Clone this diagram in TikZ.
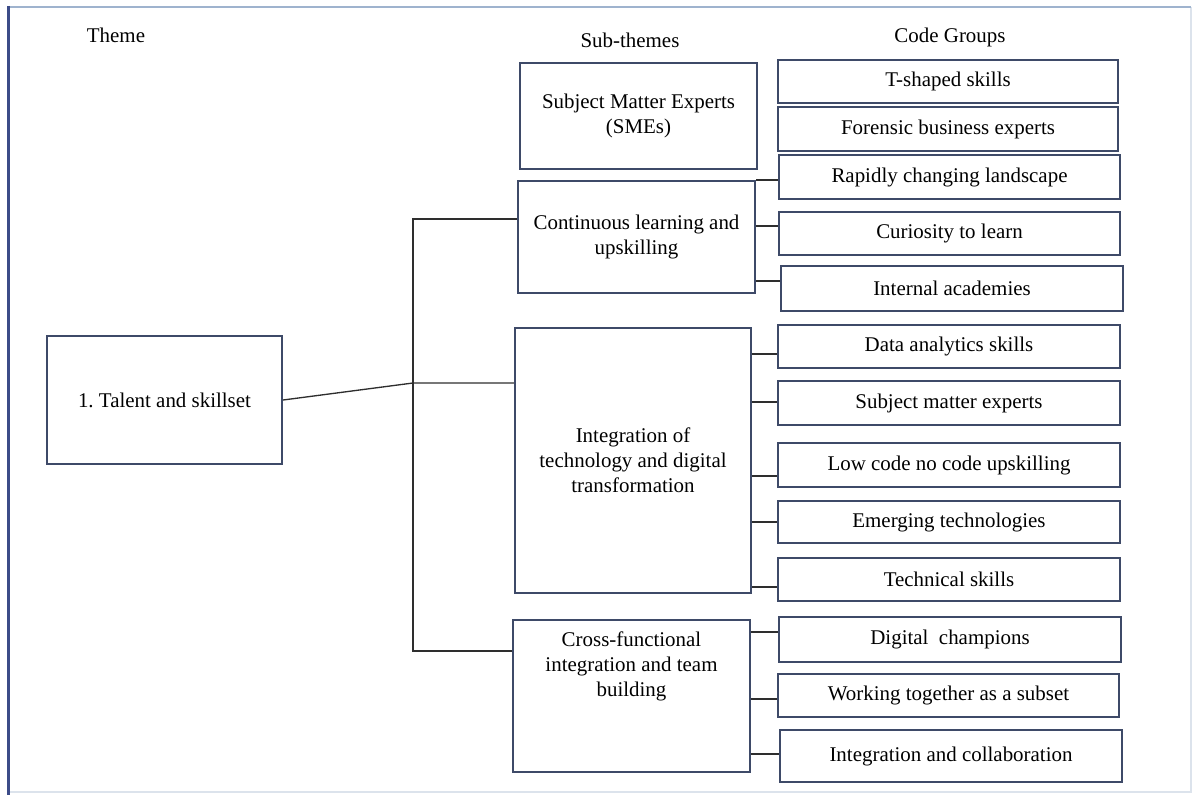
\documentclass[tikz,border=0pt]{standalone}
\usepackage{fontspec}
\setmainfont{Liberation Serif}
\definecolor{boxblue}{HTML}{3E4A68}
\definecolor{linkgray}{HTML}{2E2E2E}
\definecolor{frameblue}{HTML}{3C4C88}
\definecolor{framelight}{HTML}{9FB3CE}
\definecolor{framefaint}{HTML}{DCE3EC}
\newcommand\diagfont{\fontsize{15.7}{18.75}\selectfont}
% box given by its pixel corners: name, x1, y1, x2, y2, text
\newcommand\pxbox[7][]{%
  \node[box, #1, minimum width={(#4-#2)*0.75pt}, minimum height={(#5-#3)*0.75pt}]
    (#6) at ({(#2+#4)/2},{(#3+#5)/2}) {#7};}
\begin{document}
\begin{tikzpicture}[x=0.75pt,y=-0.75pt,
  box/.style={draw=boxblue, line width=1.7pt, inner sep=0pt, align=center, font=\diagfont},
  link/.style={draw=linkgray, line width=1pt},
  head/.style={font=\diagfont, inner sep=0pt}]
\useasboundingbox (0,0) rectangle (1196,795);

% frame
\draw[framefaint, line width=0.8pt] (1191,7) -- (1191,792) -- (8,792);
\draw[framelight, line width=0.9pt] (8,7) -- (1191,7);
\draw[frameblue, line width=2.6pt] (8.5,6) -- (8.5,795);

% column headers
\node[head] (hTheme) at (116,35) {Theme};
\node[head] (hSub) at (630,40) {Sub-themes};
\node[head] (hCode) at (950,37) {Code Groups};

% theme
\pxbox{47}{336}{282}{464}{T}{1.\ Talent and skillset}

% sub-themes
\pxbox{520}{63}{757}{169}{S1}{Subject Matter Experts\\(SMEs)}
\pxbox{518}{181}{755}{293}{S2}{Continuous learning and\\upskilling}
\pxbox{515}{328}{751}{593}{S3}{Integration of\\technology and digital\\transformation}
\pxbox[label={[font=\diagfont,align=center,yshift=22.5pt]center:Cross-functional\\integration and team\\building}]{513}{620}{750}{772}{S4}{}

% code groups
\pxbox{778}{60}{1118}{103}{C1}{T-shaped skills}
\pxbox{778}{107}{1118}{151}{C2}{Forensic business experts}
\pxbox{779}{155}{1120}{199}{C3}{Rapidly changing landscape}
\pxbox{779}{212}{1120}{255}{C4}{Curiosity to learn}
\pxbox{781}{266}{1123}{311}{C5}{Internal academies}
\pxbox{778}{325}{1120}{368}{C6}{Data analytics skills}
\pxbox{778}{381}{1120}{425}{C7}{Subject matter experts}
\pxbox{778}{443}{1120}{487}{C8}{Low code no code upskilling}
\pxbox{778}{501}{1120}{543}{C9}{Emerging technologies}
\pxbox{778}{558}{1120}{601}{C10}{Technical skills}
\pxbox{779}{617}{1121}{662}{C11}{Digital\ \ champions}
\pxbox{778}{674}{1119}{717}{C12}{Working together as a subset}
\pxbox{780}{730}{1122}{782}{C13}{Integration and collaboration}

% theme to sub-themes
\coordinate (J) at (413,383);
\coordinate (Jtop) at (413,219);
\coordinate (Jbot) at (413,651);
\draw[link] (T.east |- 0,400) -- (J) -- (J -| S3.west);
\draw[link] (S2.west |- Jtop) -- (Jtop) -- (Jbot) -- (Jbot -| S4.west);

% sub-themes to code groups
\foreach \s/\c/\y in {S2/C3/180, S2/C4/226, S2/C5/281,
                       S3/C6/354, S3/C7/402, S3/C8/476, S3/C9/522, S3/C10/587,
                       S4/C11/632, S4/C12/699, S4/C13/754}
  \draw[link] (\s.east |- 0,\y) -- (\c.west |- 0,\y);
\end{tikzpicture}
\end{document}
